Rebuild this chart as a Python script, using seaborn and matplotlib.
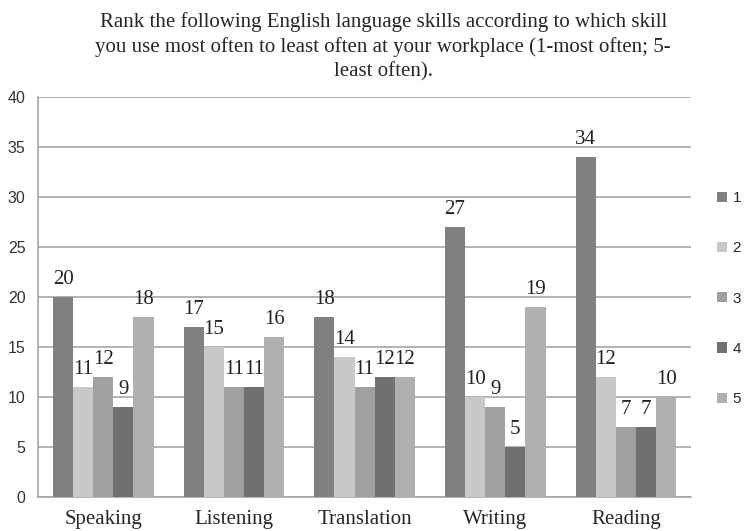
import matplotlib
matplotlib.use("Agg")
import matplotlib.pyplot as plt
import seaborn as sns
import pandas as pd
import numpy as np

categories = ["Speaking", "Listening", "Translation", "Writing", "Reading"]
ranks = ["1", "2", "3", "4", "5"]
rank1 = [20, 17, 18, 27, 34]
rank2 = [11, 15, 14, 10, 12]
rank3 = [12, 11, 11, 9, 7]
rank4 = [9, 11, 12, 5, 7]
rank5 = [18, 16, 12, 19, 10]
title = ("Rank the following English language skills according to which skill\n"
         "you use most often to least often at your workplace (1-most often; 5-\n"
         "least often).")

series = [rank1, rank2, rank3, rank4, rank5]
rows = []
for r, vals in zip(ranks, series):
    for c, v in zip(categories, vals):
        rows.append({"Skill": c, "Rank": r, "Count": v})
df = pd.DataFrame(rows)

colors = ["#808080", "#c8c8c8", "#a0a0a0", "#707070", "#b0b0b0"]

sns.set_style("white")
fig = plt.figure(figsize=(7.44, 5.31), dpi=100)
ax = fig.add_axes([0.051, 0.064, 0.878, 0.753])

sns.barplot(data=df, x="Skill", y="Count", hue="Rank", order=categories,
            hue_order=ranks, palette=colors, width=0.77, saturation=1,
            errorbar=None, ax=ax, zorder=3, linewidth=0)

ax.set_ylim(0, 40)
ax.set_xlim(-0.5, 4.5)
ax.set_yticks(np.arange(0, 41, 5))
ax.yaxis.grid(True, color="#a6a6a6", linewidth=1.2, zorder=0)
ax.set_axisbelow(True)
for s in ["top", "right"]:
    ax.spines[s].set_visible(False)
for s in ["left", "bottom"]:
    ax.spines[s].set_color("#a6a6a6")
    ax.spines[s].set_linewidth(1.2)
ax.tick_params(axis="y", length=6, color="#a6a6a6", width=1.2,
               labelsize=11.5, pad=3)
for lab in ax.get_yticklabels():
    lab.set_family("Liberation Sans")
    lab.set_color("#333333")
# x ticks at category boundaries, labels at centers
ax.set_xticks(np.arange(-0.5, 5, 1), minor=False)
ax.set_xticklabels([])
ax.tick_params(axis="x", length=6, color="#a6a6a6", width=1.2, direction="out")
ax.set_xticks(np.arange(5), minor=True)
ax.set_xticklabels(categories, minor=True, family="Liberation Serif", fontsize=15)
ax.tick_params(axis="x", which="minor", length=0, pad=9)
ax.set_xlabel("")
ax.set_ylabel("")

for cont in ax.containers:
    ax.bar_label(cont, fmt="%d", padding=6, family="Liberation Serif",
                 fontsize=15, color="#222222")

handles, labels = ax.get_legend_handles_labels()
ax.legend(handles, labels, loc="upper left", bbox_to_anchor=(0.964, 0.640),
          bbox_transform=fig.transFigure, frameon=False, handlelength=0.65,
          handleheight=0.65, labelspacing=2.37, handletextpad=0.35,
          prop={"family": "Liberation Sans", "size": 11}, borderaxespad=0,
          borderpad=0)

fig.text(0.515, 0.978, title, ha="center", va="top", family="Liberation Serif",
         fontsize=15, linespacing=1.36)

fig.savefig("out.png", dpi=100)
